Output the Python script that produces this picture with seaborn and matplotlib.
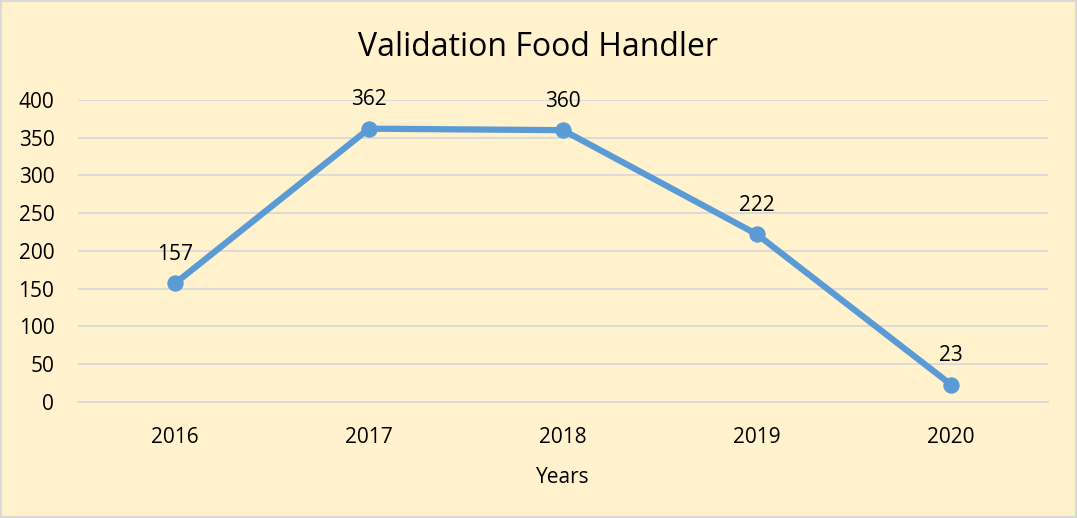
import matplotlib
matplotlib.use("Agg")
import matplotlib.pyplot as plt
import seaborn as sns
import pandas as pd

years = ["2016", "2017", "2018", "2019", "2020"]
validations = [157, 362, 360, 222, 23]
y_ticks = [0, 50, 100, 150, 200, 250, 300, 350, 400]

bg = "#FFF2CC"
line_color = "#5B9BD5"

sns.set_theme(style="white")
plt.rcParams['font.family'] = ['Open Sans', 'DejaVu Sans']

df = pd.DataFrame({"Years": years, "Count": validations})

fig = plt.figure(figsize=(10.77, 5.18), dpi=100, facecolor=bg)
ax = fig.add_axes([0.0724, 0.224, 0.9007, 0.583])
ax.set_facecolor(bg)

sns.lineplot(data=df, x="Years", y="Count", ax=ax, color=line_color,
             linewidth=4.5, marker="o", markersize=11,
             markeredgecolor=line_color, sort=False)

# value labels above each point
for i, v in enumerate(validations):
    ax.annotate(str(v), (i, v), xytext=(0, 21), textcoords="offset points",
                ha="center", va="center", fontsize=15, color="#000000")

ax.set_xlim(-0.5, 4.5)
ax.set_ylim(0, 400)
ax.set_yticks(y_ticks)
ax.yaxis.grid(True, color="#D9D9D9", linewidth=1.3)
ax.set_axisbelow(True)
for s in ["top", "right", "left"]:
    ax.spines[s].set_visible(False)
ax.spines["bottom"].set_color("#D9D9D9")
ax.spines["bottom"].set_linewidth(1.3)
ax.tick_params(axis="both", length=0, labelsize=15, colors="#000000")
ax.tick_params(axis="x", pad=18)
ax.tick_params(axis="y", pad=17)
ax.set_xlabel("Years", fontsize=15, labelpad=14, color="#000000")
ax.set_ylabel("")

fig.text(0.5, 0.909, "Validation Food Handler", ha="center", va="center",
         fontsize=23, color="#000000")

border = plt.Rectangle((0.001, 0.001), 0.998, 0.998, transform=fig.transFigure,
                       fill=False, edgecolor="#D9D9D9", linewidth=1.5)
fig.patches.append(border)

fig.savefig("out.png", dpi=100, facecolor=bg)
